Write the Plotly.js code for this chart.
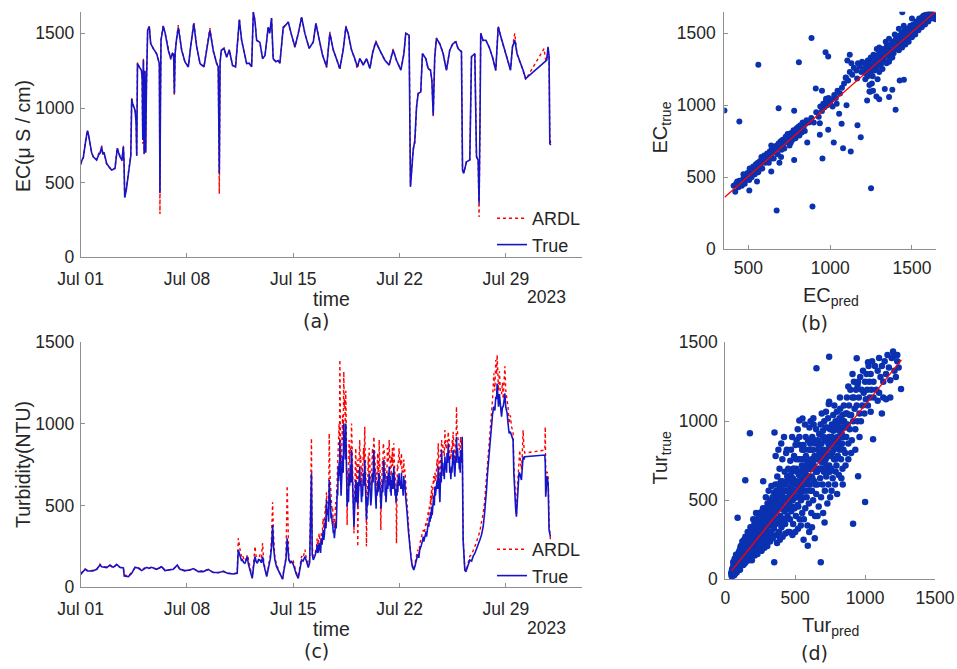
<!DOCTYPE html>
<html><head><meta charset="utf-8">
<script src="https://cdn.plot.ly/plotly-3.0.1.min.js"></script>
<style>html,body{margin:0;padding:0;background:#fff}#chart{width:957px;height:669px}</style>
</head><body><div id="chart"></div>
<script>
// ---------- (a) EC time series: day offset from 2023-07-01 ----------
const ecDay = [0,0.18,0.3,0.44,0.52,0.61,0.72,0.83,1.05,1.2,
1.27,1.38,1.46,1.54,1.71,1.9,2.04,2.26,2.41,2.5,
2.59,2.72,2.81,2.85,2.9,3.0,3.14,3.25,3.3,3.36,
3.42,3.58,3.65,3.69,3.74,3.86,4.0,4.05,4.09,4.13,
4.18,4.23,4.28,4.33,4.41,4.52,4.61,4.78,5.0,5.18,
5.22,5.25,5.29,5.44,5.57,5.77,5.93,6.05,6.12,6.17,
6.22,6.3,6.43,6.55,6.65,6.87,7.09,7.24,7.45,7.64,
7.86,8.12,8.34,8.51,8.73,8.95,9.06,9.13,9.18,9.26,
9.44,9.61,9.79,10.0,10.2,10.35,10.45,10.6,10.8,10.93,
11.1,11.26,11.37,11.48,11.59,11.8,11.98,12.14,12.35,12.45,
12.57,12.68,12.85,13.01,13.12,13.34,13.5,13.67,13.89,14.11,
14.33,14.55,14.77,15.05,15.32,15.49,15.65,15.93,16.2,16.41,
16.64,16.85,17.07,17.29,17.47,17.62,17.84,18.06,18.22,18.39,
18.61,18.83,19.05,19.22,19.44,19.7,20.04,20.32,20.58,20.8,
21.09,21.29,21.41,21.63,21.68,21.72,21.9,22.01,22.12,22.23,
22.4,22.51,22.73,22.89,23.04,23.13,23.22,23.32,23.43,23.65,
23.87,24.09,24.31,24.53,24.71,24.86,25.08,25.15,25.23,25.41,
25.63,25.74,25.96,26.07,26.18,26.24,26.3,26.35,26.5,26.68,
26.9,27.12,27.34,27.5,27.71,28.04,28.31,28.44,28.59,28.74,
28.92,29.14,29.31,30.52,30.63,30.7,30.78,30.85,30.9,30.96];
const ecTrue = [629,673,760,847,820,763,700,673,651,690,
696,740,690,700,629,600,584,595,729,700,
673,651,740,650,400,450,562,673,680,1060,
1030,985,900,680,1298,1275,1253,1200,785,1320,
696,1250,700,1150,1521,1543,1432,1398,1365,1298,
430,1000,1454,1548,1499,1387,1331,1365,1360,1097,
1365,1450,1540,1460,1387,1309,1275,1409,1565,1409,
1298,1275,1420,1521,1387,1298,1275,562,1300,1387,
1398,1342,1387,1287,1275,1450,1590,1454,1365,1297,
1300,1276,1643,1580,1452,1441,1330,1352,1541,1500,
1603,1330,1310,1318,1300,1541,1555,1576,1488,1410,
1498,1609,1498,1399,1443,1566,1488,1353,1276,1499,
1388,1330,1265,1388,1543,1499,1388,1330,1276,1330,
1287,1330,1265,1365,1443,1388,1320,1287,1388,1320,
1253,1365,1499,1488,1000,472,717,785,1007,1097,
1108,1365,1331,1265,1253,1186,952,1342,1465,1432,
1365,1253,1387,1432,1443,1398,1376,584,562,640,
651,1343,1365,673,651,360,900,1499,1454,1454,
1410,1342,1253,1543,1465,1342,1253,1410,1454,1365,
1320,1253,1197,null,1309,1320,1409,1350,762,751];
const ecArdl = [620,668,770,852,815,760,705,668,655,700,
690,748,685,705,622,605,580,600,735,695,
680,645,750,640,395,455,560,670,690,1075,
1025,990,905,675,1305,1270,1260,1190,760,1330,
690,1245,710,1140,1525,1548,1430,1400,1360,1300,
290,950,1460,1552,1495,1390,1325,1370,1355,1085,
1370,1455,1555,1455,1390,1305,1280,1405,1575,1415,
1295,1278,1425,1535,1380,1300,1270,425,1310,1385,
1402,1340,1392,1283,1278,1455,1600,1450,1368,1300,
1295,1280,1640,1590,1455,1438,1335,1350,1545,1505,
1600,1325,1315,1310,1305,1530,1560,1572,1490,1405,
1502,1612,1495,1402,1440,1570,1485,1358,1270,1510,
1385,1332,1255,1392,1550,1495,1390,1325,1262,1335,
1290,1328,1268,1370,1450,1385,1318,1290,1395,1318,
1258,1360,1502,1490,1010,480,730,760,1000,1100,
1115,1360,1335,1258,1255,1190,945,1350,1470,1428,
1370,1250,1390,1440,1445,1395,1380,590,565,645,
655,1345,1360,680,640,270,880,1505,1450,1460,
1405,1345,1250,1550,1460,1345,1258,1405,1500,1360,
1315,1250,1190,1398,1320,1318,1400,1340,800,760];

// ---------- (c) Turbidity time series ----------
const turDay = [0,0.15,0.29,0.45,0.61,0.8,1.05,1.27,1.38,1.49,
1.71,1.93,2.15,2.37,2.59,2.81,2.87,3.14,3.36,3.58,
3.8,4.02,4.2,4.34,4.5,4.67,5.0,5.2,5.33,5.55,
5.88,6.1,6.36,6.54,6.87,7.2,7.42,7.75,8.08,8.4,
8.73,9.06,9.39,9.72,10.05,10.31,10.38,10.45,10.53,10.6,
10.66,10.74,10.82,10.9,10.97,11.05,11.15,11.22,11.3,11.38,
11.48,11.55,11.63,11.72,11.8,11.9,11.98,12.06,12.14,12.25,
12.33,12.42,12.5,12.57,12.64,12.7,12.79,12.9,13.0,13.1,
13.23,13.3,13.38,13.45,13.52,13.6,13.65,13.71,13.8,13.89,
14.0,14.11,14.2,14.33,14.42,14.55,14.65,14.77,14.87,14.99,
15.08,15.2,15.25,15.32,15.42,
15.54,15.58,15.62,15.65,15.7,15.75,15.8,15.85,15.9,15.97,
16.01,16.05,16.09,16.12,16.16,16.19,16.23,16.28,16.33,16.37,
16.41,16.45,16.49,16.52,16.56,16.6,16.64,16.67,16.71,16.74,
16.77,16.8,16.83,16.85,16.88,16.9,16.93,16.96,16.99,17.02,
17.05,17.07,17.1,17.12,17.15,17.18,17.22,17.25,17.29,17.33,
17.36,17.4,17.43,17.46,17.49,17.51,17.55,17.58,17.6,17.64,
17.68,17.72,17.76,17.8,17.84,17.88,17.92,17.96,18.0,18.03,
18.06,18.09,18.12,18.16,18.19,18.22,18.25,18.28,18.31,18.35,
18.38,18.41,18.45,18.48,18.5,18.53,18.56,18.6,18.63,18.67,
18.71,18.74,18.77,18.8,18.82,18.85,18.88,18.91,18.94,18.97,
19.0,19.04,19.07,19.11,19.15,19.18,19.22,19.26,19.31,19.34,
19.38,19.4,19.43,19.46,19.48,19.52,19.56,19.59,19.62,19.64,
19.66,19.69,19.72,19.75,19.77,19.79,19.81,19.85,19.88,19.9,
19.93,19.95,19.97,20.0,20.03,20.06,20.08,20.11,20.14,20.17,
20.2,20.23,20.26,20.29,20.32,20.35,20.38,20.4,20.42,20.45,
20.47,20.5,20.53,20.55,20.58,20.6,20.62,20.65,20.68,20.71,
20.74,20.77,20.8,20.83,20.86,20.89,20.92,20.95,20.97,21.01,
21.05,21.09,21.13,21.16,21.2,21.24,21.28,21.31,21.35,21.38,
21.42,21.46,21.5,
21.58,21.68,21.77,21.85,21.94,22.02,22.12,22.2,22.27,22.33,22.42,
22.5,22.53,22.56,22.6,22.65,22.7,22.75,22.78,22.82,22.85,
22.89,22.93,22.97,23.01,23.05,23.08,23.11,23.15,23.18,23.21,
23.25,23.29,23.33,23.36,23.4,23.43,23.47,23.51,23.55,23.58,
23.6,23.63,23.66,23.69,23.72,23.75,23.77,23.81,23.85,23.88,
23.92,23.95,23.99,24.03,24.06,24.1,24.13,24.17,24.21,24.24,
24.28,24.31,24.35,24.38,24.42,24.45,24.48,24.51,24.53,24.57,
24.6,24.62,24.64,24.67,24.7,24.73,24.75,24.79,24.82,24.86,
24.91,24.94,24.97,25.0,25.02,25.05,25.08,25.11,25.13,25.19,
25.3,25.37,25.5,25.63,25.75,25.85,25.96,26.05,26.15,26.22,26.29,
26.4,26.51,26.6,26.67,26.73,26.8,26.88,26.95,27.01,27.06,
27.13,27.21,27.28,27.34,27.39,27.43,27.48,27.52,27.58,27.64,
27.72,27.78,27.83,27.9,27.94,28.0,28.09,28.15,28.22,28.3,
28.38,28.48,28.53,28.59,28.65,28.7,28.76,28.81,28.87,28.92,
28.97,29.03,29.08,29.14,29.2,29.25,30.57,30.6,30.63,30.68,
30.72,30.79,30.85,30.94];
const turTrue = [79,95,110,100,102,100,110,136,125,122,
120,136,122,140,122,118,69,65,85,122,
116,102,115,122,115,122,110,120,126,102,
106,110,136,110,102,106,114,96,96,110,
90,90,96,85,81,85,228,200,187,160,
167,150,147,170,187,140,106,80,55,120,
187,160,147,170,167,150,187,140,106,65,
100,147,180,248,381,250,167,126,106,80,
55,50,100,147,170,299,200,167,150,157,
140,106,80,55,100,167,160,187,160,120,
150,696,200,167,190,
228,260,210,220,270,248,210,300,260,350,
290,320,380,420,360,533,440,480,400,655,
560,520,420,452,400,380,330,350,300,330,
380,400,360,452,520,600,560,737,650,760,
680,900,760,700,560,635,720,800,700,1002,
850,900,780,1000,820,700,493,560,600,520,
696,620,750,640,838,700,600,480,370,450,
500,600,655,520,580,640,493,560,600,660,
737,620,650,560,520,600,554,640,700,620,
777,680,600,500,411,480,550,500,620,560,
696,640,600,500,554,620,700,640,838,740,
700,600,550,480,594,560,650,580,700,600,
696,640,600,500,533,480,533,600,650,580,
700,640,777,660,700,560,600,520,614,560,
680,600,700,620,737,640,680,580,620,560,
655,600,700,620,680,600,737,660,650,560,
600,520,574,560,640,580,680,620,696,620,
650,600,700,600,620,560,680,600,655,580,
550,500,452,
350,248,170,126,106,130,167,200,180,228,250,
270,290,309,280,300,330,340,310,360,340,
390,370,430,400,460,420,493,440,480,520,
560,500,615,560,580,620,650,600,737,680,
650,600,520,640,700,640,838,740,760,680,
720,660,798,720,750,700,820,760,879,780,
800,700,720,660,737,700,800,740,838,780,
750,700,676,740,800,760,920,820,850,760,
798,720,750,700,838,780,800,760,920,289,
106,95,130,167,160,190,207,230,250,260,289,
320,370,450,520,594,700,798,880,950,1001,
1060,1103,1080,1164,1150,1245,1150,1103,1180,1120,
1042,1100,1103,1150,1184,1100,1062,1000,940,950,
920,900,700,553,480,431,550,635,700,696,
680,655,720,798,780,798,808,760,553,600,
676,635,350,309];
const turArdl = [85,100,112,104,100,104,108,142,128,126,
124,132,118,138,120,120,75,68,90,118,
120,105,118,120,116,126,108,118,130,104,
108,112,132,108,100,110,112,98,100,106,
92,88,100,86,84,88,300,250,210,190,
200,170,180,160,200,170,120,90,60,140,
250,190,170,160,200,180,270,150,120,70,
110,160,200,300,520,320,180,140,110,90,
60,55,110,160,180,620,260,170,160,150,
160,120,90,65,120,190,180,230,170,140,
170,910,250,190,200,
250,300,240,260,330,300,260,330,310,420,
360,380,470,500,430,580,520,520,480,940,
700,600,520,520,470,480,390,420,360,400,
460,520,480,600,640,680,760,900,820,1000,
900,1390,1100,850,700,780,940,1050,900,1317,
1100,1150,950,1200,1000,800,380,650,720,620,
900,760,850,820,1000,860,650,560,330,560,
600,760,850,640,700,780,248,640,720,820,
900,760,800,700,600,740,680,780,850,760,
981,820,700,600,250,560,600,640,800,700,
850,780,700,620,650,780,850,760,920,860,
800,720,600,580,700,680,820,700,750,720,
900,780,700,580,350,540,600,720,780,700,
880,760,850,820,800,680,650,640,700,700,
850,760,780,820,900,780,800,720,700,680,
800,760,850,740,750,780,880,800,720,680,
700,620,268,640,750,720,820,760,850,760,
780,740,820,700,720,700,780,700,720,680,
620,560,500,
400,260,180,130,110,150,180,230,200,260,300,
320,340,350,330,340,390,400,380,420,410,
460,440,500,480,560,500,620,540,580,620,
680,640,700,680,650,760,780,720,880,800,
750,700,600,780,840,800,900,860,880,820,
840,800,960,860,880,840,900,880,950,900,
900,820,800,780,850,820,900,860,950,900,
850,800,720,860,900,880,1103,960,950,900,
880,840,850,820,920,880,900,860,900,300,
110,100,140,190,200,220,250,270,300,320,340,
400,450,520,600,680,780,850,950,1000,1050,
1150,1307,1200,1388,1300,1420,1250,1200,1320,1200,
1180,1250,1150,1300,1350,1200,1150,1100,1000,1050,
980,950,750,600,520,440,600,700,760,838,
760,720,800,960,850,820,838,981,700,650,
706,680,400,290];

// ---------- (b) EC scatter: predicted vs true ----------
const ecPred = [410,420,425,432,440,445,452,460,468,475,480,488,495,500,505,512,518,522,530,535,540,546,552,558,563,570,575,580,585,590,598,603,608,615,620,625,632,638,645,650,655,662,668,673,680,686,692,698,703,710,715,720,728,733,740,745,752,758,763,770,776,782,788,795,800,806,812,818,825,832,838,845,850,856,
430,458,478,498,508,526,548,566,585,602,622,640,660,678,695,712,730,748,768,785,805,826,470,520,560,640,700,760,506,553,640,690,780,860,
870,885,900,915,930,940,950,958,965,975,982,990,1000,1008,1015,1025,1035,1045,1060,1072,1085,1095,1110,1120,1135,1145,1160,1170,1180,1190,1195,912,950,975,1040,1055,1070,1100,
354,445,561,886,809,972,988,1096,1165,685,780,937,937,988,1022,953,1126,1079,1167,1187,1250,673,892,1226,1283,1334,1380,1360,1451,1425,1400,1441,1120,1240,1300,1105,1130,1245,1262,
1205,1210,1218,1225,1230,1236,1242,1248,1255,1260,1265,1270,1276,1282,1288,1294,1300,1305,1310,1316,1322,1328,1334,1340,1346,1352,1358,1364,1370,1376,1382,1388,1394,1400,1406,1412,1418,1424,1430,1436,1442,1448,1454,1460,1466,1472,1478,1484,1490,1496,1502,1508,1514,1520,1526,1532,1538,1544,1550,1556,1562,1568,1574,1580,1586,1592,1598,1604,1610,1616,1622,1630,1638,1645,
1215,1230,1250,1270,1290,1310,1330,1350,1370,1390,1410,1430,1450,1470,1490,1510,1530,1550,1570,1590,1610,1300,1320,1345,1360,1380,1420,1440,1460,1480,1500,1520,1540,1560,1580,1600,1620,1260,1285,1340,1395,1450,1500,1420,1300,1360,1255,1290,1240];
const ecObs = [440,400,455,470,430,475,460,440,490,470,510,495,530,520,480,540,560,525,575,550,520,590,570,600,545,610,590,640,560,615,650,600,630,665,640,600,680,655,700,670,630,705,690,720,660,735,710,750,690,760,735,700,780,745,800,770,720,805,790,760,825,800,770,840,815,850,790,860,835,880,850,820,870,895,
445,475,455,505,560,540,555,580,620,625,660,630,680,700,720,730,760,790,800,815,830,810,520,500,535,720,640,740,407,470,540,600,620,740,
880,910,880,950,920,990,960,1010,985,1030,1000,1050,1015,1040,990,1070,1050,1100,1080,1120,1150,1190,1170,1230,1210,1260,1240,1290,1270,1230,1300,1115,1100,1045,1010,940,870,1000,
963,887,1280,1465,1297,1366,1338,1192,1185,979,961,875,794,829,741,630,678,701,861,778,424,269,296,1032,1060,1111,1107,1056,1176,1171,968,1645,1350,1095,1040,1310,1290,1093,1100,
1250,1290,1220,1270,1310,1245,1290,1330,1265,1300,1350,1280,1320,1260,1345,1300,1370,1320,1280,1350,1390,1330,1300,1375,1410,1345,1390,1320,1420,1380,1440,1360,1410,1455,1390,1430,1480,1410,1460,1500,1430,1470,1520,1450,1490,1530,1470,1510,1550,1490,1530,1560,1510,1550,1580,1530,1570,1600,1550,1590,1610,1570,1600,1625,1590,1615,1635,1600,1625,1640,1610,1630,1600,1595,
1180,1200,1230,1240,1270,1310,1360,1370,1350,1420,1460,1420,1490,1510,1510,1540,1560,1580,1620,1600,1640,1230,1250,1290,1300,1330,1380,1400,1420,1440,1470,1490,1520,1540,1560,1580,1600,1200,1390,1440,1490,1550,1600,1530,1400,1460,1150,1180,1140];
const ecFitX = [355, 1645];
const ecFitY = [361, 1651];

// ---------- (d) Turbidity scatter: predicted vs true ----------
const turPred = [45,50,52,55,58,60,62,65,68,70,72,75,78,80,82,85,88,90,92,95,98,100,103,106,110,112,115,118,120,124,127,130,133,136,140,143,146,150,48,57,63,67,74,77,86,94,96,105,108,116,122,128,135,138,148,152,88,
42,46,53,56,61,64,66,69,71,73,76,79,81,84,87,89,91,93,97,99,101,104,107,109,111,113,117,119,121,125,129,131,134,137,141,144,147,151,
155,158,162,165,168,172,175,178,182,185,188,192,195,198,202,205,208,212,215,218,222,225,228,232,235,238,242,245,248,252,160,170,180,190,200,210,220,230,240,250,176,143,271,
157,163,167,171,177,183,187,191,197,201,207,211,217,221,227,231,237,241,247,
255,258,262,265,268,272,275,278,282,285,288,292,295,298,302,305,308,312,315,318,322,325,328,332,335,338,342,345,348,350,260,270,280,290,300,310,320,330,340,350,265,285,305,325,345,352,
257,263,267,273,277,283,287,293,297,303,307,313,317,323,327,333,337,343,347,
355,358,362,365,368,372,375,378,382,385,388,392,395,398,402,405,408,412,415,418,422,425,428,432,435,438,442,445,448,450,360,370,380,390,400,410,420,430,440,450,365,395,425,445,380,415,
357,363,367,373,377,383,387,393,397,403,407,413,417,423,427,433,437,443,447,
455,458,462,465,468,472,475,478,482,485,488,492,495,498,502,505,508,512,515,518,522,525,528,532,535,538,542,545,548,550,460,470,480,490,500,510,520,530,540,550,552,530,465,485,505,525,545,555,
457,463,467,473,477,483,487,493,497,503,507,513,517,523,527,533,537,543,547,
555,558,562,565,568,572,575,578,582,585,588,592,595,598,602,605,608,612,615,618,622,625,628,632,635,638,642,645,648,650,560,590,570,600,610,620,630,640,650,580,600,620,640,560,610,
557,563,567,573,577,583,587,593,597,603,607,613,617,623,627,633,637,643,647,
655,658,662,665,668,672,675,678,682,685,688,692,695,698,702,705,708,712,715,718,722,725,728,732,735,738,742,745,748,750,660,683,690,700,710,720,730,740,750,652,743,743,670,700,725,745,
657,663,667,673,677,683,687,693,697,703,707,713,717,723,727,733,737,743,747,
755,758,762,765,768,772,775,778,782,785,788,792,795,798,802,805,808,812,815,818,822,825,828,832,835,838,842,845,848,850,760,780,800,820,840,790,830,810,850,
757,763,767,773,777,783,787,793,797,803,807,813,817,823,827,833,837,843,847,
855,858,862,865,870,875,880,885,890,895,900,905,910,915,920,925,930,935,940,945,950,860,880,900,914,950,940,870,890,920,880,910,930,946,
955,960,965,970,975,980,985,990,995,1000,1005,1010,1015,1020,1025,1030,1035,1040,1045,1050,1000,1021,960,1057,1040,1060,1070,1080,1090,1100,1110,1120,1130,1140,1150,1160,1170,1180,1190,1200,1210,1220,1230,1240,1257,1130,1150,1120,1090,1180,1200,1230,1100,1060];
const turObs = [30,45,70,40,90,55,35,75,100,50,120,65,90,140,45,110,80,60,130,100,150,75,120,95,160,130,90,180,110,150,200,120,170,140,220,160,110,190,60,110,25,130,40,155,55,70,170,60,200,140,240,90,250,100,230,130,390,
40,20,55,25,80,50,110,35,85,60,105,70,120,90,140,100,75,160,120,90,180,140,110,170,210,100,200,160,130,180,160,230,190,120,180,270,200,160,
160,220,260,140,200,300,180,240,150,280,210,330,170,250,290,200,350,230,300,180,270,380,240,320,210,290,360,250,410,300,300,120,330,120,380,150,420,160,420,200,924,627,621,
190,230,170,260,210,190,250,220,300,240,270,320,250,300,280,350,260,320,340,
260,340,220,380,290,250,420,330,280,450,360,240,400,310,480,350,270,420,380,300,500,410,340,450,280,520,380,460,320,550,180,450,200,520,210,560,240,590,260,108,430,300,440,360,400,929,
300,280,330,310,370,350,300,330,360,390,420,360,450,300,470,380,430,350,480,
420,600,350,500,280,650,440,380,560,300,700,480,400,620,330,540,760,450,380,600,500,680,350,560,800,450,620,400,520,700,780,230,820,250,860,270,900,290,820,300,560,520,430,560,470,520,
470,430,380,520,600,450,550,580,350,480,620,560,440,380,600,500,560,650,460,
480,620,380,750,540,430,680,900,500,350,620,780,450,560,850,400,700,520,620,950,460,760,580,380,680,850,500,620,720,420,300,820,280,700,300,880,320,900,340,820,1018,1005,580,520,600,680,560,760,
560,520,660,590,460,640,700,560,620,520,760,680,470,600,660,540,760,580,650,
520,700,380,820,600,450,900,660,520,760,340,880,600,480,960,700,560,820,420,650,900,740,500,980,620,780,400,860,680,540,250,212,980,300,1000,330,1020,260,950,560,640,560,700,850,730,
620,560,720,680,780,620,700,740,820,600,860,700,760,640,820,720,880,600,780,
760,600,880,700,460,920,800,640,980,520,860,740,600,940,820,680,1000,560,880,760,650,960,820,700,1020,600,900,780,680,950,400,108,1050,420,360,1060,480,1110,520,1336,1408,1124,850,900,880,840,
680,820,760,700,860,780,700,820,760,900,740,800,960,720,880,780,860,720,900,
860,700,980,800,640,1040,880,760,950,600,1000,860,720,1060,900,780,1000,660,940,820,1080,900,760,1000,860,700,960,820,1100,900,560,1100,540,1150,600,680,640,860,1000,
780,900,860,940,820,880,760,960,840,980,880,900,1020,840,960,920,1040,900,960,
960,800,1050,900,1150,980,860,1100,950,1200,1040,880,1150,1000,1250,1080,950,1200,1100,1000,1250,720,760,800,352,653,1399,1050,1040,1150,1220,1300,820,1230,
1150,1050,1280,1000,1200,1100,1320,1180,1050,1250,1140,1300,1200,1100,1350,1250,1150,1300,1200,1380,490,1374,900,886,1060,1250,1350,1200,1320,1400,1280,1350,1250,1380,1300,1420,1340,1260,1400,1442,1320,1280,1380,1340,1204,1150,1140,1050,1130,1150,1410,1420,1180,1150];
const turFitX = [45, 1260];
const turFitY = [55, 1389];

const xTickStart = '2023-07-01';
const xRange = ['2023-07-01', '2023-08-03'];

// ---------- drawing ----------
const BASE = Date.UTC(2023, 6, 1);
const toDate = d => new Date(BASE + d * 86400000).toISOString().slice(0, 19).replace('T', ' ');
const ecX = ecDay.map(toDate);
const turX = turDay.map(toDate);

const RED = '#ff0000', BLUE = '#1414c8', DOT = '#0a31b0';
const FONT = 'Liberation Sans, Arial, sans-serif';
const TXT = '#262626', AX = '#8f8f8f';

const traces = [
  {x: ecX, y: ecArdl, type: 'scatter', mode: 'lines', name: 'ARDL', line: {color: RED, width: 1.4, dash: 'dot'}, xaxis: 'x', yaxis: 'y', legend: 'legend'},
  {x: ecX, y: ecTrue, type: 'scatter', mode: 'lines', name: 'True', connectgaps: true, line: {color: BLUE, width: 1.6}, xaxis: 'x', yaxis: 'y', legend: 'legend'},
  {x: turX, y: turArdl, type: 'scatter', mode: 'lines', name: 'ARDL', line: {color: RED, width: 1.4, dash: 'dot'}, xaxis: 'x3', yaxis: 'y3', legend: 'legend2'},
  {x: turX, y: turTrue, type: 'scatter', mode: 'lines', name: 'True', line: {color: BLUE, width: 1.6}, xaxis: 'x3', yaxis: 'y3', legend: 'legend2'},
  {x: ecPred, y: ecObs, type: 'scatter', mode: 'markers', marker: {size: 6, color: DOT}, xaxis: 'x2', yaxis: 'y2', showlegend: false},
  {x: ecFitX, y: ecFitY, type: 'scatter', mode: 'lines', line: {color: RED, width: 1.3}, xaxis: 'x2', yaxis: 'y2', showlegend: false},
  {x: turPred, y: turObs, type: 'scatter', mode: 'markers', marker: {size: 6.5, color: DOT}, xaxis: 'x4', yaxis: 'y4', showlegend: false},
  {x: turFitX, y: turFitY, type: 'scatter', mode: 'lines', line: {color: RED, width: 1.3}, xaxis: 'x4', yaxis: 'y4', showlegend: false}
];

const W = 957, H = 669;
const px = v => v / W, py = v => 1 - v / H;
const axBase = {showline: true, linecolor: AX, linewidth: 1, ticks: 'inside', ticklen: 4, tickcolor: AX,
  showgrid: false, zeroline: false, tickfont: {family: FONT, size: 17.5, color: TXT}, ticklabelstandoff: 2};
const dateAx = Object.assign({}, axBase, {type: 'date', range: xRange, tick0: xTickStart, dtick: 7 * 86400000,
  tickformat: '%b %d', ticklabelstandoff: 6});

const ann = (text, x, y, size, extra) => Object.assign({text, x: px(x), y: py(y), xref: 'paper', yref: 'paper',
  showarrow: false, xanchor: 'center', yanchor: 'middle', font: {family: FONT, size, color: TXT}}, extra || {});
const LBL = 'DejaVu Sans, sans-serif';

const layout = {
  width: W, height: H, margin: {l: 0, r: 0, t: 0, b: 0}, paper_bgcolor: '#fff', plot_bgcolor: '#fff',
  xaxis: Object.assign({}, dateAx, {domain: [px(80.7), px(581.7)], anchor: 'y'}),
  yaxis: Object.assign({}, axBase, {domain: [py(257.3), py(11.7)], anchor: 'x', range: [0, 1645], tickvals: [0, 500, 1000, 1500]}),
  xaxis3: Object.assign({}, dateAx, {domain: [px(80.7), px(581.7)], anchor: 'y3'}),
  yaxis3: Object.assign({}, axBase, {domain: [py(587.3), py(341.7)], anchor: 'x3', range: [0, 1500], tickvals: [0, 500, 1000, 1500]}),
  xaxis2: Object.assign({}, axBase, {domain: [px(724.3), px(936)], anchor: 'y2', range: [353, 1647], tickvals: [500, 1000, 1500], ticklabelstandoff: 3}),
  yaxis2: Object.assign({}, axBase, {domain: [py(249.3), py(11.7)], anchor: 'x2', range: [0, 1648], tickvals: [0, 500, 1000, 1500], ticklabelstandoff: 4}),
  xaxis4: Object.assign({}, axBase, {domain: [px(725.3), px(935)], anchor: 'y4', range: [0, 1500], tickvals: [0, 500, 1000, 1500], ticklabelstandoff: 3}),
  yaxis4: Object.assign({}, axBase, {domain: [py(579.3), py(342.3)], anchor: 'x4', range: [0, 1500], tickvals: [0, 500, 1000, 1500], ticklabelstandoff: 3}),
  legend: {x: px(492), y: py(200), xanchor: 'left', yanchor: 'top', bgcolor: 'rgba(0,0,0,0)', borderwidth: 0,
    font: {family: FONT, size: 18, color: TXT}, itemwidth: 30, tracegroupgap: 0},
  legend2: {x: px(492), y: py(531), xanchor: 'left', yanchor: 'top', bgcolor: 'rgba(0,0,0,0)', borderwidth: 0,
    font: {family: FONT, size: 18, color: TXT}, itemwidth: 30, tracegroupgap: 0},
  annotations: [
    ann('EC(μ S / cm)', 23, 136, 19.5, {textangle: -90}),
    ann('time', 331, 299, 19.5),
    ann('2023', 546.5, 297, 17.5),
    ann('(a)', 316, 321, 19, {font: {family: LBL, size: 19, color: TXT}}),
    ann('Turbidity(NTU)', 23, 465, 19.5, {textangle: -90}),
    ann('time', 331, 629, 19.5),
    ann('2023', 546.5, 628, 17.5),
    ann('(c)', 316, 651, 19, {font: {family: LBL, size: 19, color: TXT}}),
    ann('EC<sub>true</sub>', 660.5, 128, 20, {textangle: -90}),
    ann('EC<sub>pred</sub>', 831, 296, 20),
    ann('(b)', 814, 323, 19, {font: {family: LBL, size: 19, color: TXT}}),
    ann('Tur<sub>true</sub>', 660.5, 458, 20, {textangle: -90}),
    ann('Tur<sub>pred</sub>', 830, 626, 20),
    ann('(d)', 814, 653, 19, {font: {family: LBL, size: 19, color: TXT}})
  ]
};

Plotly.newPlot('chart', traces, layout, {displayModeBar: false, staticPlot: true});
</script>
</body></html>
